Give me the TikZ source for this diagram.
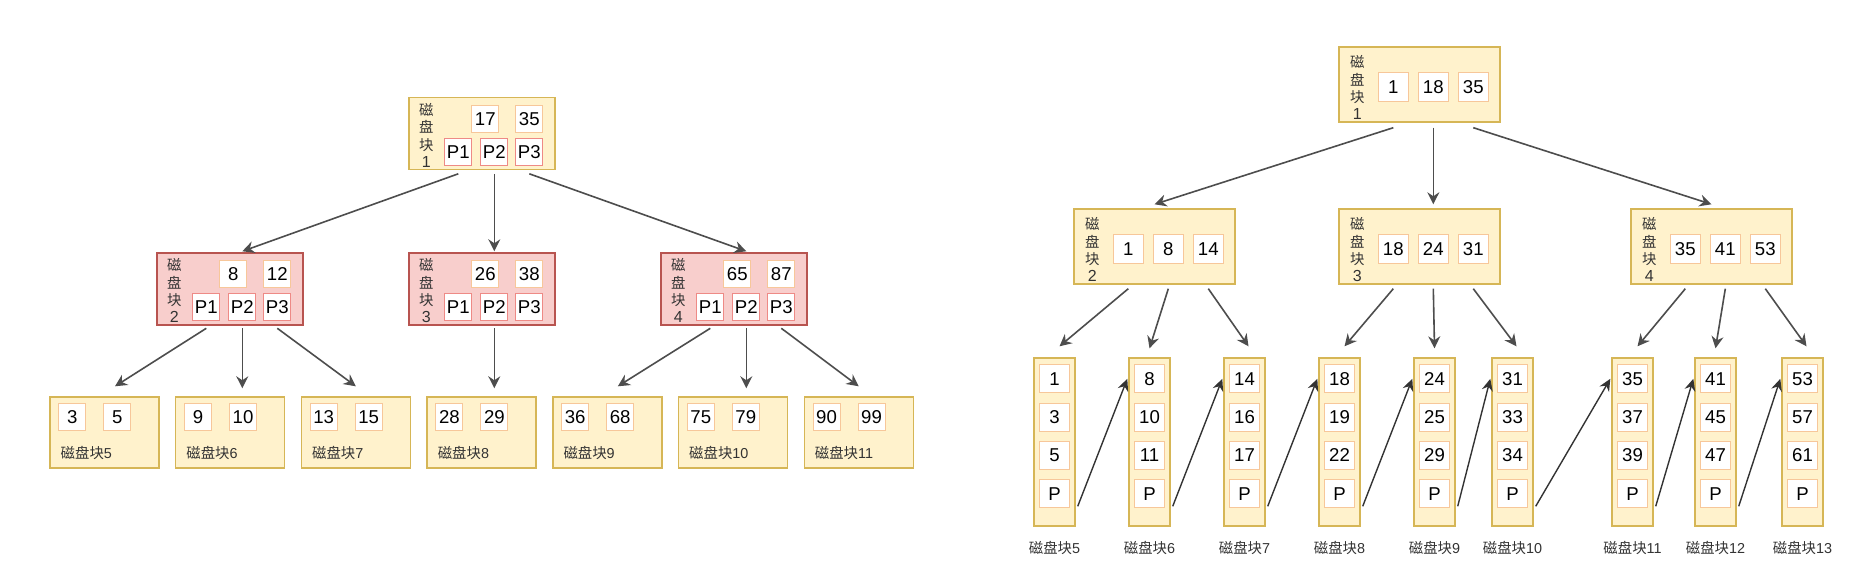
\documentclass[tikz,border=0pt]{standalone}
\usepackage{fontspec}
\setmainfont{Liberation Sans}
\newfontfamily\cjk{Noto Sans CJK SC}
\usetikzlibrary{arrows.meta,positioning}
\definecolor{cream}{HTML}{FFF2CC}
\definecolor{creamline}{HTML}{D6B656}
\definecolor{rose}{HTML}{F8CECC}
\definecolor{roseline}{HTML}{B85450}
\definecolor{keyline}{HTML}{F7C79A}
\definecolor{ptrline}{HTML}{EE8A86}
\definecolor{wire}{HTML}{4D4D4D}
\definecolor{inksoft}{HTML}{333333}

\begin{document}
\begin{tikzpicture}[
  x=0.5pt,y=-0.5pt,
  font=\fontsize{9.3}{11}\selectfont,
  disk/.style={draw=creamline,line width=0.7pt,fill=cream,inner sep=0pt},
  lnode/.style={minimum width=73pt,minimum height=36pt},
  rnode/.style={minimum width=80.5pt,minimum height=37.5pt},
  lleaf/.style={disk,minimum width=54.5pt,minimum height=35.5pt},
  rleaf/.style={disk,minimum width=20.5pt,minimum height=84pt},
  key/.style={draw=keyline,line width=0.5pt,fill=white,inner sep=0pt,
              minimum width=13.5pt,minimum height=13.5pt},
  ptr/.style={key,draw=ptrline},
  rkey/.style={key,minimum width=15pt,minimum height=14.5pt},
  rcell/.style={key,minimum width=15pt,minimum height=14pt},
  tag/.style={font=\fontsize{8}{8.7}\selectfont,align=center,inner sep=0pt,text=inksoft},
  caption/.style={font=\fontsize{7.2}{9}\selectfont,inner sep=0pt,text=inksoft},
  arrow/.style={-{Stealth[length=6pt,width=6pt,inset=2pt]},draw=wire,line width=0.8pt},
  link/.style={-{Stealth[length=6pt,width=5.5pt,inset=2pt]},draw=inksoft,line width=0.7pt},
]
\useasboundingbox (0,0) rectangle (1866,582);

% B-tree
\foreach \n/\x/\y/\ka/\kb/\f/\d in {1/482/133.5/17/35/cream/creamline,
    2/230/289/8/12/rose/roseline,3/482/289/26/38/rose/roseline,4/734/289/65/87/rose/roseline}{
  \node[disk,lnode,fill=\f,draw=\d] (lb\n) at (\x,\y) {};
  \node[tag] (lbt\n) at ([shift={(18,38.5)}]lb\n.north west)
    {{\cjk\fontsize{7.2}{8.7}\selectfont 磁}\\{\cjk\fontsize{7.2}{8.7}\selectfont 盘}\\{\cjk\fontsize{7.2}{8.7}\selectfont 块}\\\n};
  \node[key] (lba\n) at ([shift={(77,22)}]lb\n.north west) {\ka};
  \node[key] (lbb\n) at ([shift={(121,22)}]lb\n.north west) {\kb};
  \node[ptr] (lbp\n) at ([shift={(50,55)}]lb\n.north west) {P1};
  \node[ptr] (lbq\n) at ([shift={(86,55)}]lb\n.north west) {P2};
  \node[ptr] (lbr\n) at ([shift={(121,55)}]lb\n.north west) {P3};
}
\foreach \n/\ka/\kb [count=\i from 0] in {5/3/5,6/9/10,7/13/15,8/28/29,9/36/68,10/75/79,11/90/99}{
  \node[lleaf] (ll\n) at (104.5+125.7*\i,432.5) {};
  \node[key] (lla\n) at ([shift={(23,21)}]ll\n.north west) {\ka};
  \node[key] (llb\n) at ([shift={(68,21)}]ll\n.north west) {\kb};
  \node[caption,anchor=west] (llt\n) at ([shift={(11,56.5)}]ll\n.north west) {{\cjk 磁盘块}\n};
}

\draw[arrow] ([yshift=-4pt]lbp1.south) -- ([yshift=0.5pt]lb2.north -| lbq2);
\draw[arrow] ([yshift=-4pt]lbq1.south) -- ([yshift=0.5pt]lb3.north -| lbq3);
\draw[arrow] ([yshift=-4pt]lbr1.south) -- ([yshift=0.5pt]lb4.north -| lbq4);
\foreach \n/\u/\v/\w in {2/5/6/7,4/9/10/11}{
  \draw[arrow] ([yshift=-3.5pt]lbp\n.south) -- ([shift={(10.5,-10)}]ll\u.north);
  \draw[arrow] ([yshift=-3.5pt]lbq\n.south) -- ([yshift=4pt]ll\v.north -| lbq\n);
  \draw[arrow] ([yshift=-3.5pt]lbr\n.south) -- ([shift={(0,-10)}]ll\w.north);
}
\draw[arrow] ([yshift=-3.5pt]lbq3.south) -- ([yshift=4pt]ll8.north -| lbq3);

% B+ tree
\foreach \n/\x/\y/\ka/\kb/\kc in {1/1419.5/84.5/1/18/35,2/1154.5/246.5/1/8/14,
    3/1419.5/246.5/18/24/31,4/1711.5/246.5/35/41/53}{
  \node[disk,rnode] (rb\n) at (\x,\y) {};
  \node[tag] (rbt\n) at ([shift={(19,41.5)}]rb\n.north west)
    {{\cjk\fontsize{7.2}{8.7}\selectfont 磁}\\{\cjk\fontsize{7.2}{8.7}\selectfont 盘}\\{\cjk\fontsize{7.2}{8.7}\selectfont 块}\\\n};
  \node[rkey] (rba\n) at ([shift={(55,40.5)}]rb\n.north west) {\ka};
  \node[rkey] (rbb\n) at ([shift={(95,40.5)}]rb\n.north west) {\kb};
  \node[rkey] (rbc\n) at ([shift={(135,40.5)}]rb\n.north west) {\kc};
}
\foreach \n/\x/\ka/\kb/\kc in {5/1054.5/1/3/5,6/1149.5/8/10/11,7/1244.5/14/16/17,
    8/1339.5/18/19/22,9/1434.5/24/25/29,10/1512.5/31/33/34,
    11/1632.5/35/37/39,12/1715.5/41/45/47,13/1802.5/53/57/61}{
  \node[rleaf] (rl\n) at (\x,442) {};
  \node[rcell] (rla\n) at ([shift={(0,21.5)}]rl\n.north) {\ka};
  \node[rcell] (rlb\n) at ([shift={(0,60)}]rl\n.north) {\kb};
  \node[rcell] (rlc\n) at ([shift={(0,98)}]rl\n.north) {\kc};
  \node[rcell] (rlp\n) at ([shift={(0,136.5)}]rl\n.north) {P};
  \node[caption] (rlt\n) at ([shift={(0,21)}]rl\n.south) {{\cjk 磁盘块}\n};
}

\draw[arrow] ([yshift=-2.5pt]rb1.south -| rba1) -- ([yshift=2pt]rb2.north);
\draw[arrow] ([yshift=-2.5pt]rb1.south -| rbb1) -- ([yshift=2pt]rb3.north -| rbb1);
\draw[arrow] ([yshift=-2.5pt]rb1.south -| rbc1) -- ([yshift=2pt]rb4.north);
\foreach \n/\u/\v/\w in {2/5/6/7,3/8/9/10,4/11/12/13}{
  \draw[arrow] ([yshift=-2pt]rb\n.south -| rba\n) -- ([shift={(5,-11)}]rl\u.north);
  \draw[arrow] ([yshift=-2pt]rb\n.south -| rbb\n) -- ([shift={(0,-9)}]rl\v.north);
  \draw[arrow] ([yshift=-2pt]rb\n.south -| rbc\n) -- ([shift={(4,-11)}]rl\w.north);
}
\foreach \u/\v in {5/6,6/7,7/8,8/9,9/10,10/11,11/12,12/13}
  \draw[link] ([shift={(2,-2)}]rl\u.east |- rlp\u.south) -- ([xshift=-0.5pt]rl\v.west |- rla\v);
\end{tikzpicture}
\end{document}
